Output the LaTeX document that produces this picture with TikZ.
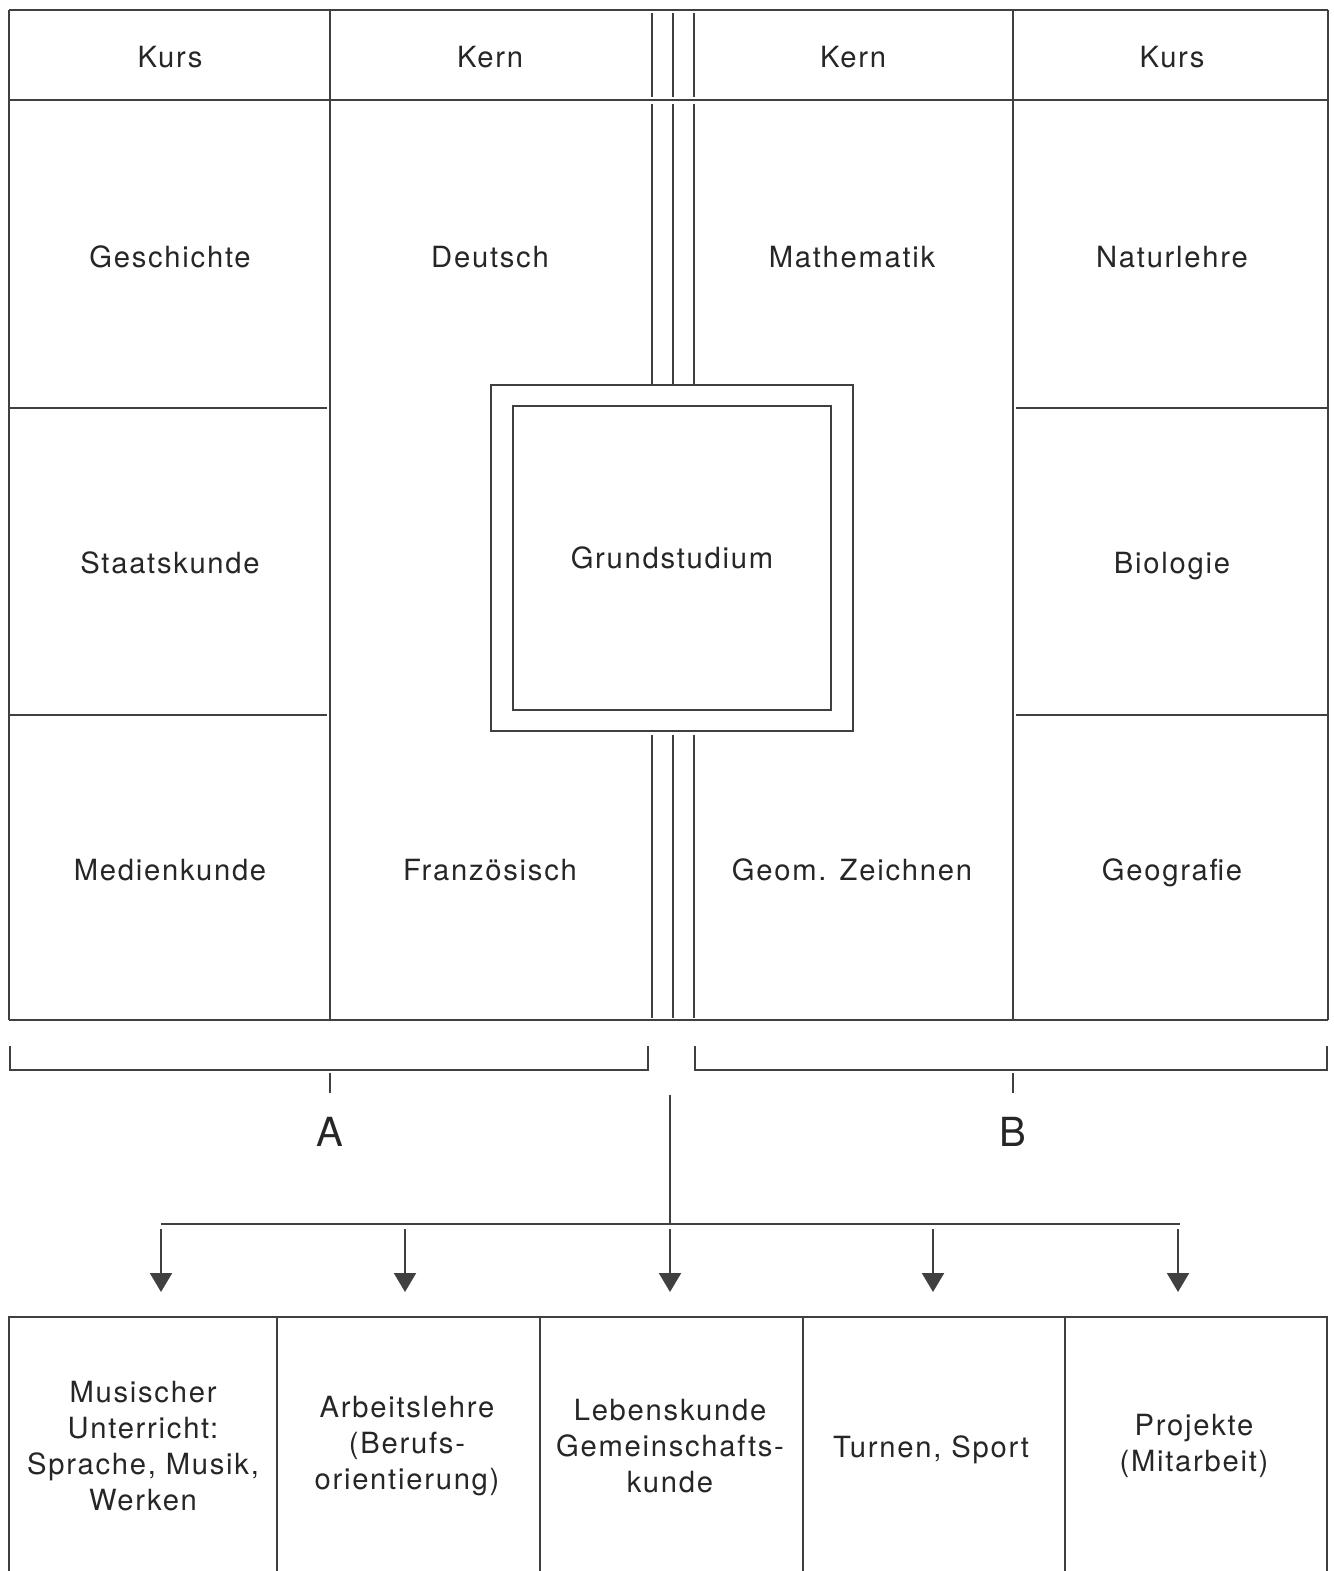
\documentclass[tikz,border=0pt]{standalone}
\usepackage{fontspec}
\setmainfont{TeX Gyre Heros}[LetterSpace=6]
\usetikzlibrary{arrows.meta}

\begin{document}
\begin{tikzpicture}[x=0.01cm, y=-0.01cm, line width=0.6pt, draw=black!75, every node/.style={font=\fontsize{8.3pt}{10.2pt}\selectfont, text=black!85, align=center}, fach/.style={text height=1.6ex, text depth=0.5ex}, biglabel/.style={font=\fontsize{11.4pt}{13pt}\selectfont}, downarrow/.style={-{Triangle[width=0.22cm,length=0.19cm]}}]
\useasboundingbox (0,0) rectangle (1333,1571);
\draw (9,10) -- (1328,10) (9,100) -- (1328,100) (9,1020) -- (1328,1020);
\draw (9,10) -- (9,1020) (330,10) -- (330,1020) (1013,10) -- (1013,1020) (1328,10) -- (1328,1020);
\draw (9,408) -- (327,408) (9,715) -- (327,715) (1016,408) -- (1328,408) (1016,715) -- (1328,715);
\node[draw, fach, minimum width=3.18cm, minimum height=3.04cm] (grund) at (672,558) {Grundstudium};
\node[draw, minimum width=3.61cm, minimum height=3.46cm] (rahmen) at (grund) {};
\foreach \x in {652,673,694} {
  \draw (\x,13) -- (\x,97);
  \draw (\x,104) -- (\x,\x |- rahmen.north);
  \draw (\x,\x |- rahmen.south) ++(0,3) -- (\x,1018);
}
\node[fach] (kursA) at (170,57) {Kurs};
\node[fach] (kernA) at (490,57) {Kern};
\node[fach] (kernB) at (853,57) {Kern};
\node[fach] (kursB) at (1172,57) {Kurs};
\node[fach] (gesch) at (170,257) {Geschichte};
\node[fach] (staat) at (170,563) {Staatskunde};
\node[fach] (medien) at (170,870) {Medienkunde};
\node[fach] (deutsch) at (490,257) {Deutsch};
\node[fach] (franz) at (490,870) {Französisch};
\node[fach] (mathe) at (852,257) {Mathematik};
\node[fach] (geom) at (852,870) {Geom. Zeichnen};
\node[fach] (natur) at (1172,257) {Naturlehre};
\node[fach] (bio) at (1172,563) {Biologie};
\node[fach] (geo) at (1172,870) {Geografie};
\draw (10,1046) |- (648,1070) -- (648,1046);
\draw (695,1046) |- (1327,1070) -- (1327,1046);
\draw (330,1073) -- (330,1093) (1013,1073) -- (1013,1093);
\node[biglabel] (labA) at (330,1132) {A};
\node[biglabel] (labB) at (1013,1132) {B};
\coordinate (split) at (670,1095);
\coordinate (verteil) at (670,1224);
\draw (split) -- (verteil);
\draw (161,1224) -- (1180,1224);
\foreach \x/\n in {161/1,405/2,670/3,933/4,1178/5} {
  \coordinate (a\n) at (\x,1229);
  \coordinate (t\n) at (\x,1292);
  \draw[downarrow, fill=black!85] (a\n) -- (t\n);
}
\draw (8,1317) -- (1328,1317);
\foreach \x in {9,277,540,803,1065,1327}
  \draw (\x,1317) -- (\x,1571);
\node (musik) at (143,1446) {Musischer\\Unterricht:\\Sprache, Musik,\\Werken};
\node (arbeit) at (407,1446) {Arbeitslehre\\(Berufs-\\orientierung)};
\node (leben) at (670,1446) {Lebenskunde\\Gemeinschafts-\\kunde};
\node (sport) at (931,1450) {Turnen, Sport};
\node (projekt) at (1194,1446) {Projekte\\(Mitarbeit)};
\end{tikzpicture}
\end{document}
